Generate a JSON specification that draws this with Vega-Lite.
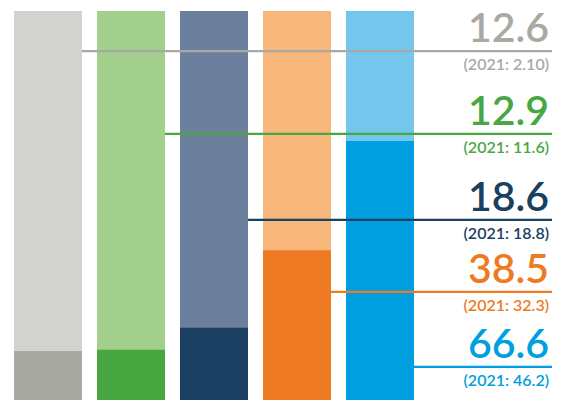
{
  "$schema": "https://vega.github.io/schema/vega-lite/v6.json",
  "width": 538,
  "height": 389,
  "autosize": {"type": "none"},
  "padding": {"left": 14, "top": 11, "right": 13, "bottom": 0},
  "config": {"view": {"stroke": null}},
  "data": {
    "values": [
      {"name": "s1", "v2022": 12.6, "label": "12.6", "prior": "(2021: 2.10)", "anchor": 89.7},
      {"name": "s2", "v2022": 12.9, "label": "12.9", "prior": "(2021: 11.6)", "anchor": 68.4},
      {"name": "s3", "v2022": 18.6, "label": "18.6", "prior": "(2021: 18.8)", "anchor": 46.3},
      {"name": "s4", "v2022": 38.5, "label": "38.5", "prior": "(2021: 32.3)", "anchor": 27.8},
      {"name": "s5", "v2022": 66.6, "label": "66.6", "prior": "(2021: 46.2)", "anchor": 8.5}
    ]
  },
  "encoding": {
    "x": {
      "field": "name", "type": "nominal", "sort": null, "axis": null,
      "scale": {"type": "band", "paddingInner": 0.1807, "paddingOuter": 0.8313, "align": 0}
    }
  },
  "layer": [
    {
      "mark": {"type": "bar"},
      "encoding": {
        "y": {"datum": 100, "type": "quantitative", "scale": {"domain": [0, 100], "nice": false, "zero": true}, "axis": null},
        "y2": {"datum": 0},
        "color": {"field": "name", "type": "nominal", "legend": null, "scale": {"domain": ["s1", "s2", "s3", "s4", "s5"], "range": ["#d2d2d1", "#a3cf8c", "#6c7f9c", "#f7b77b", "#75c6ed"]}}
      }
    },
    {
      "mark": {"type": "bar"},
      "encoding": {
        "y": {"field": "v2022", "type": "quantitative"},
        "y2": {"datum": 0},
        "color": {"field": "name", "type": "nominal", "legend": null, "scale": {"domain": ["s1", "s2", "s3", "s4", "s5"], "range": ["#a9a9a4", "#49a742", "#1b3f60", "#ee7a24", "#009fdf"]}}
      }
    },
    {
      "mark": {"type": "rule", "strokeWidth": 2.2},
      "encoding": {
        "x": {"field": "name", "type": "nominal", "sort": null, "bandPosition": 1},
        "x2": {"value": "width"},
        "y": {"field": "anchor", "type": "quantitative"},
        "color": {"field": "name", "type": "nominal", "legend": null, "scale": {"domain": ["s1", "s2", "s3", "s4", "s5"], "range": ["#a9a9a4", "#49a742", "#1b3f60", "#ee7a24", "#009fdf"]}}
      }
    },
    {
      "mark": {"type": "text", "align": "right", "baseline": "alphabetic", "dx": -3, "dy": -9, "font": "Lato", "fontSize": 41, "fontWeight": 600, "letterSpacing": -1},
      "encoding": {
        "x": {"value": "width"},
        "y": {"field": "anchor", "type": "quantitative"},
        "text": {"field": "label"},
        "color": {"field": "name", "type": "nominal", "legend": null, "scale": {"domain": ["s1", "s2", "s3", "s4", "s5"], "range": ["#a9a9a4", "#49a742", "#1b3f60", "#ee7a24", "#009fdf"]}}
      }
    },
    {
      "mark": {"type": "text", "align": "right", "baseline": "alphabetic", "dx": -3, "dy": 19, "font": "Lato", "fontSize": 16, "fontWeight": 600},
      "encoding": {
        "x": {"value": "width"},
        "y": {"field": "anchor", "type": "quantitative"},
        "text": {"field": "prior"},
        "color": {"field": "name", "type": "nominal", "legend": null, "scale": {"domain": ["s1", "s2", "s3", "s4", "s5"], "range": ["#a9a9a4", "#49a742", "#1b3f60", "#ee7a24", "#009fdf"]}}
      }
    }
  ],
  "resolve": {"scale": {"color": "independent"}}
}
